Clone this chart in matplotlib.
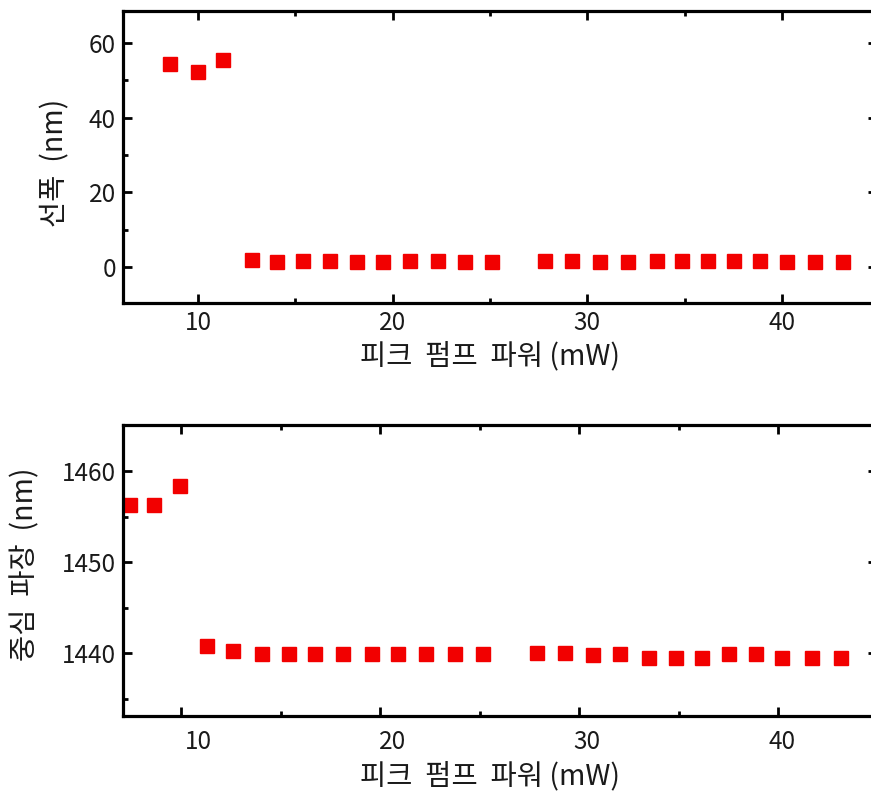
import matplotlib
matplotlib.use("Agg")
import matplotlib.pyplot as plt
from matplotlib.ticker import MultipleLocator, NullFormatter
from matplotlib.transforms import blended_transform_factory, ScaledTranslation

plt.rcParams['font.family'] = ['Noto Sans CJK KR', 'DejaVu Sans']
plt.rcParams['font.weight'] = 'light'

# Linewidth vs. peak pump power
power_lw = [8.56, 10.0, 11.29, 12.78, 14.06, 15.40, 16.79, 18.17, 19.51, 20.90,
            22.34, 23.73, 25.12, 27.84, 29.23, 30.67, 32.11, 33.60, 34.88, 36.22,
            37.51, 38.89, 40.28, 41.72, 43.11]
linewidth = [54.3, 52.3, 55.4, 1.9, 1.3, 1.7, 1.7, 1.3, 1.3, 1.7,
             1.7, 1.3, 1.3, 1.7, 1.7, 1.3, 1.3, 1.7, 1.7, 1.7,
             1.7, 1.7, 1.3, 1.3, 1.3]

# Centre wavelength vs. peak pump power
power_cw = [7.44, 8.64, 9.95, 11.31, 12.61, 14.07, 15.43, 16.73, 18.14, 19.60,
            20.90, 22.31, 23.77, 25.18, 27.89, 29.30, 30.70, 32.06, 33.52, 34.87,
            36.18, 37.54, 38.89, 40.20, 41.71, 43.17]
center_wl = [1456.3, 1456.3, 1458.4, 1440.8, 1440.2, 1439.9, 1439.9, 1439.9, 1439.9, 1439.9,
             1439.9, 1439.9, 1439.9, 1439.9, 1440.0, 1440.0, 1439.8, 1439.9, 1439.5, 1439.5,
             1439.5, 1439.9, 1439.9, 1439.5, 1439.5, 1439.5]

x_ticks = [10, 20, 30, 40]
xlabel = '피크 펌프 파워 (mW)'
ylabel_top = '선폭 (nm)'
ylabel_bot = '중심 파장 (nm)'

W, H = 871, 794
fig = plt.figure(figsize=(W / 100, H / 100), dpi=100)


def frac(l, t, r, b):
    return [l / W, 1 - b / H, (r - l) / W, (b - t) / H]


ax1 = fig.add_axes(frac(123, 11, 877, 303))
ax2 = fig.add_axes(frac(123, 425, 877, 716))

red = '#f20000'
ax1.plot(power_lw, linewidth, linestyle='none', marker='s', ms=9.8,
         color=red, mec=red, clip_on=False)
ax2.plot(power_cw, center_wl, linestyle='none', marker='s', ms=10.5,
         color=red, mec=red, clip_on=False)

ax1.set_xlim(6.147, 44.88)
ax1.set_ylim(-9.64, 68.57)
ax2.set_xlim(7.085, 44.97)
ax2.set_ylim(1433.12, 1465.05)

ax1.yaxis.set_major_locator(MultipleLocator(20))
ax1.yaxis.set_minor_locator(MultipleLocator(10))
ax2.yaxis.set_major_locator(MultipleLocator(10))
ax2.yaxis.set_minor_locator(MultipleLocator(5))
for ax in (ax1, ax2):
    ax.xaxis.set_major_locator(MultipleLocator(10))
    ax.xaxis.set_minor_locator(MultipleLocator(5))
    for s in ax.spines.values():
        s.set_linewidth(2.3)
    ax.tick_params(which='both', direction='in', top=True, right=True,
                   width=2.0, labelsize=17.5, labelcolor='#1a1a1a', pad=5)
    ax.tick_params(which='major', length=6.5)
    ax.tick_params(which='minor', length=3.5)

# Bottom panel: tick labels positioned along the upper panel's power scale
ax2.xaxis.set_major_formatter(NullFormatter())
lab_tr = blended_transform_factory(ax1.transData, ax2.transAxes) + \
    ScaledTranslation(0, -13 / 100, fig.dpi_scale_trans)
for v in x_ticks:
    ax2.text(v, 0, str(v), transform=lab_tr, ha='center', va='top',
             fontsize=17.5, color='#1a1a1a')

lab_kw = dict(fontsize=20.5, color='#1a1a1a')
ax1.set_xlabel(xlabel.replace(' ', '  ', 2), **lab_kw)
ax2.set_xlabel(xlabel.replace(' ', '  ', 2), **lab_kw)
ax1.xaxis.set_label_coords(0.487, -0.130)
ax2.xaxis.set_label_coords(0.487, -0.155)

ax1.set_ylabel(ylabel_top.replace(' ', '  '), **lab_kw)
ax2.set_ylabel(ylabel_bot.replace(' ', '  '), **lab_kw)
ax1.yaxis.set_label_coords(-0.070, 0.48)
ax2.yaxis.set_label_coords(-0.110, 0.52)

fig.savefig('out.png', dpi=100, facecolor='white')
